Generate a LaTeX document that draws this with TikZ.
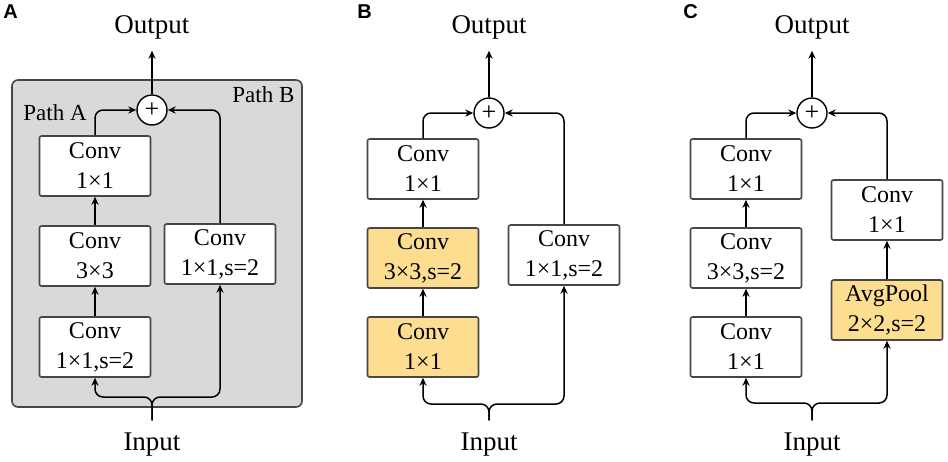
\documentclass[tikz,border=0pt]{standalone}
\usepackage{fontspec}
\setmainfont{Liberation Serif}
\newfontfamily\lblfont{Liberation Sans}
\usetikzlibrary{arrows.meta}
\definecolor{panelgray}{RGB}{217,217,217}
\definecolor{boxline}{RGB}{70,70,70}
\definecolor{poolfill}{RGB}{253,221,143}
\tikzset{
	blk/.style={draw=boxline, line width=0.8pt, fill=white, rounded corners=1pt, minimum width=55.5pt, minimum height=30pt, align=center, inner sep=0pt, font=\fontsize{12}{15}\selectfont},
	hot/.style={blk, fill=poolfill},
	addnode/.style={circle, draw=black, line width=0.7pt, fill=white, minimum size=15pt, inner sep=0pt, font=\fontsize{13}{13}\selectfont},
	io/.style={inner sep=0pt, outer sep=6pt, font=\fontsize{13.5}{16}\selectfont},
	arr/.style={->, line width=0.75pt, rounded corners=4pt},
	panel/.style={anchor=base west, inner sep=0pt, font=\lblfont\bfseries\fontsize{10}{12}\selectfont},
	pathlbl/.style={anchor=base west, inner sep=0pt, font=\fontsize{11.5}{13}\selectfont}
}
\begin{document}
\begin{tikzpicture}[x=0.5pt, y=-0.5pt, line join=round, >={Stealth[length=4pt,width=3.6pt]}]
	\useasboundingbox (0,0) rectangle (948,461);
	\foreach \p/\x in {A/3,B/357,C/683}
	\node[panel] (lbl\p) at (\x,18) {\p};
	% panel A
	\draw[draw=boxline, fill=panelgray, line width=0.8pt, rounded corners=3pt] (12,80) rectangle (302,407);
	\node[pathlbl] (pathA) at (23,120) {Path A};
	\node[pathlbl] (pathB) at (232,102) {Path B};
	\node[blk] (a1) at (95,347) {Conv\\1×1,s=2};
	\node[blk] (a2) at (95,256) {Conv\\3×3};
	\node[blk] (a3) at (95,166) {Conv\\1×1};
	\node[blk] (ar) at (220,254) {Conv\\1×1,s=2};
	\node[addnode] (addA) at (152,110) {+};
	\node[io, anchor=base] (outA) at (152,33) {Output};
	\node[io, anchor=base] (inA) at (152,450) {Input};
	\coordinate (splitA) at (152,397);
	\draw[arr] (addA.north) -- (outA.south);
	\draw[arr] (a1.north) -- (a2.south);
	\draw[arr] (a2.north) -- (a3.south);
	\draw[arr] (a3.north) |- (addA.west);
	\draw[arr] (ar.north) |- (addA.east);
	\draw[arr] (inA.north) -- (splitA) -| (a1.south);
	\draw[arr] (inA.north) -- (splitA) -| (ar.south);
	% panel B
	\node[hot] (b1) at (423,347) {Conv\\1×1};
	\node[hot] (b2) at (423,258) {Conv\\3×3,s=2};
	\node[blk] (b3) at (423,169) {Conv\\1×1};
	\node[blk] (br) at (564,255) {Conv\\1×1,s=2};
	\node[addnode] (addB) at (489,113) {+};
	\node[io, anchor=base] (outB) at (489,33) {Output};
	\node[io, anchor=base] (inB) at (489,450) {Input};
	\coordinate (splitB) at (489,404);
	\draw[arr] (addB.north) -- (outB.south);
	\draw[arr] (b1.north) -- (b2.south);
	\draw[arr] (b2.north) -- (b3.south);
	\draw[arr] (b3.north) |- (addB.west);
	\draw[arr] (br.north) |- (addB.east);
	\draw[arr] (inB.north) -- (splitB) -| (b1.south);
	\draw[arr] (inB.north) -- (splitB) -| (br.south);
	% panel C
	\node[blk] (c1) at (746,347) {Conv\\1×1};
	\node[blk] (c2) at (746,258) {Conv\\3×3,s=2};
	\node[blk] (c3) at (746,169) {Conv\\1×1};
	\node[hot] (cp) at (887,310) {AvgPool\\2×2,s=2};
	\node[blk] (cr) at (887,210) {Conv\\1×1};
	\node[addnode] (addC) at (812,113) {+};
	\node[io, anchor=base] (outC) at (812,33) {Output};
	\node[io, anchor=base] (inC) at (812,450) {Input};
	\coordinate (splitC) at (812,403);
	\draw[arr] (addC.north) -- (outC.south);
	\draw[arr] (c1.north) -- (c2.south);
	\draw[arr] (c2.north) -- (c3.south);
	\draw[arr] (c3.north) |- (addC.west);
	\draw[arr] (cp.north) -- (cr.south);
	\draw[arr] (cr.north) |- (addC.east);
	\draw[arr] (inC.north) -- (splitC) -| (c1.south);
	\draw[arr] (inC.north) -- (splitC) -| (cp.south);
\end{tikzpicture}
\end{document}
